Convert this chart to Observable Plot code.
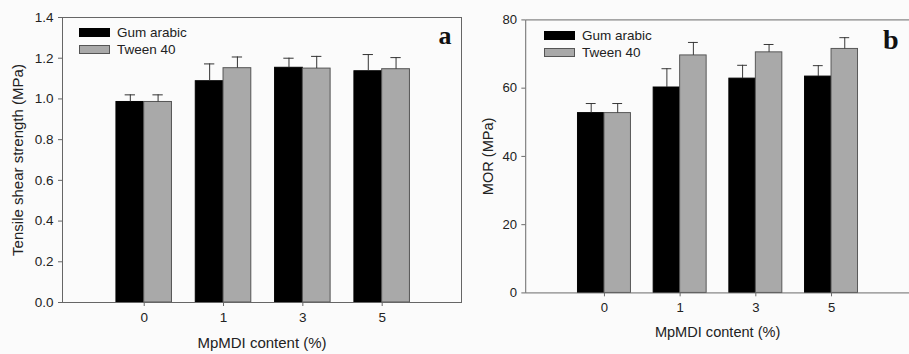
<!DOCTYPE html>
<html>
<head>
<meta charset="utf-8">
<script src="https://cdn.jsdelivr.net/npm/d3@7"></script>
<script src="https://cdn.jsdelivr.net/npm/@observablehq/plot@0.6"></script>
<style>
  html, body { margin: 0; padding: 0; background: #fbfbfb; }
  #figure { position: relative; width: 909px; height: 354px; overflow: hidden; font-family: "Liberation Sans", Arial, sans-serif; color: #222; }
  .panel { position: absolute; top: 0; }
  .panel svg { display: block; overflow: visible; }
  .panel svg g[aria-label="y-axis tick label"],
  .panel svg g[aria-label="x-axis tick label"] { font-size: 13.5px; }
  .legend { position: absolute; font-size: 13.5px; line-height: 17px; }
  .legend .row { display: flex; align-items: center; height: 17px; }
  .legend .sw { width: 29px; height: 7px; margin-right: 7px; border: 1px solid #444; }
</style>
</head>
<body>
<div id="figure"></div>
<script>
// MpMDI content levels (x categories) and the two emulsifier series
const categories = ["0", "1", "3", "5"];
const series = ["Gum arabic", "Tween 40"];
const seriesFill = ["#000000", "#a9a9a9"];
const seriesStroke = ["#000000", "#555555"];

// (a) Tensile shear strength, MPa: means and upper standard deviations
const shearGum = [0.985, 1.087, 1.153, 1.136];
const shearGumErr = [0.035, 0.085, 0.047, 0.082];
const shearTween = [0.985, 1.151, 1.149, 1.146];
const shearTweenErr = [0.035, 0.055, 0.060, 0.057];
const shearTicks = [0, 0.2, 0.4, 0.6, 0.8, 1.0, 1.2, 1.4];

// (b) Modulus of rupture, MPa
const morGum = [52.7, 60.2, 62.8, 63.4];
const morGumErr = [2.8, 5.5, 3.9, 3.2];
const morTween = [52.7, 69.6, 70.5, 71.5];
const morTweenErr = [2.8, 3.8, 2.3, 3.3];
const morTicks = [0, 20, 40, 60, 80];

const halfBar = 0.35;   // bar width as a fraction of the category step
const capHalf = 0.065;  // half width of the error-bar caps

function rowsFor(values, errors, s) {
  return categories.map((c, i) => {
    const left = s === 0;
    const x1 = left ? i - halfBar : i;
    const x2 = left ? i : i + halfBar;
    return {cat: c, i, s, value: values[i], err: errors[i], x1, x2, xc: (x1 + x2) / 2, top: values[i] + errors[i]};
  });
}

function panel({left, width, marginLeft, marginRight, marginTop, marginBottom, xDomain, yDomain, yTicks, yFormat, yLabel, yLabelDx, letter, letterSize, letterDx, letterDy, data}) {
  const marks = [];
  data.forEach((rows, s) => {
    marks.push(Plot.rectY(rows, {x1: "x1", x2: "x2", y1: 0, y2: "value", fill: seriesFill[s], stroke: seriesStroke[s], strokeWidth: 1}));
  });
  data.forEach((rows, s) => {
    marks.push(Plot.ruleX(rows, {x: "xc", y1: "value", y2: "top", stroke: "#333", strokeWidth: 1}));
    marks.push(Plot.ruleY(rows, {y: "top", x1: d => d.xc - capHalf, x2: d => d.xc + capHalf, stroke: "#333", strokeWidth: 1}));
  });
  marks.push(
    Plot.frame({stroke: "#666", strokeWidth: 1}),
    Plot.axisY({ticks: yTicks, tickFormat: yFormat, tickSize: 4, tickPadding: 5, label: null, stroke: "#666"}),
    Plot.axisX({ticks: categories.map((c, i) => i), tickFormat: i => categories[i], tickSize: 4, tickPadding: 6, label: null, stroke: "#666"}),
    Plot.text([yLabel], {frameAnchor: "left", textAnchor: "middle", rotate: -90, dx: yLabelDx, fontSize: 15, fill: "#222"}),
    Plot.text(["MpMDI content (%)"], {frameAnchor: "bottom", textAnchor: "middle", dy: 45, fontSize: 15, fill: "#222"}),
    Plot.text([letter], {frameAnchor: "top-right", textAnchor: "end", lineAnchor: "bottom", dx: letterDx, dy: letterDy, fontSize: letterSize, fontWeight: "bold", fontFamily: "Liberation Serif, Times New Roman, serif", fill: "#111"})
  );
  const chart = Plot.plot({
    width, height: 354, marginLeft, marginRight, marginTop, marginBottom,
    style: {background: "transparent", fontFamily: "Liberation Sans, Arial, sans-serif", fontSize: "13.5px", color: "#222"},
    x: {type: "linear", domain: xDomain},
    y: {domain: yDomain},
    marks
  });
  const div = document.createElement("div");
  div.className = "panel";
  div.style.left = left + "px";
  div.appendChild(chart);
  // legend inside the plot area, top left
  const legend = document.createElement("div");
  legend.className = "legend";
  legend.style.left = (marginLeft + 17) + "px";
  legend.style.top = (marginTop + 7) + "px";
  series.forEach((name, s) => {
    const row = document.createElement("div");
    row.className = "row";
    const sw = document.createElement("span");
    sw.className = "sw";
    sw.style.background = seriesFill[s];
    sw.style.borderColor = seriesStroke[s];
    row.appendChild(sw);
    row.appendChild(document.createTextNode(name));
    legend.appendChild(row);
  });
  div.appendChild(legend);
  document.getElementById("figure").appendChild(div);
}

panel({
  left: 0, width: 465, marginLeft: 62, marginRight: 4, marginTop: 17, marginBottom: 52,
  xDomain: [-1.03, 4.0], yDomain: [0, 1.4], yTicks: shearTicks, yFormat: d3.format(".1f"),
  yLabel: "Tensile shear strength (MPa)", yLabelDx: -44,
  letter: "a", letterSize: 26, letterDx: -10, letterDy: 26,
  data: [rowsFor(shearGum, shearGumErr, 0), rowsFor(shearTween, shearTweenErr, 1)]
});

panel({
  left: 465, width: 457, marginLeft: 62, marginRight: 0, marginTop: 20, marginBottom: 53,
  xDomain: [-1.04, 4.03], yDomain: [0, 80], yTicks: morTicks, yFormat: d3.format("d"),
  yLabel: "MOR (MPa)", yLabelDx: -39,
  letter: "b", letterSize: 29, letterDx: -11, letterDy: 30,
  data: [rowsFor(morGum, morGumErr, 0), rowsFor(morTween, morTweenErr, 1)]
});
</script>
</body>
</html>
